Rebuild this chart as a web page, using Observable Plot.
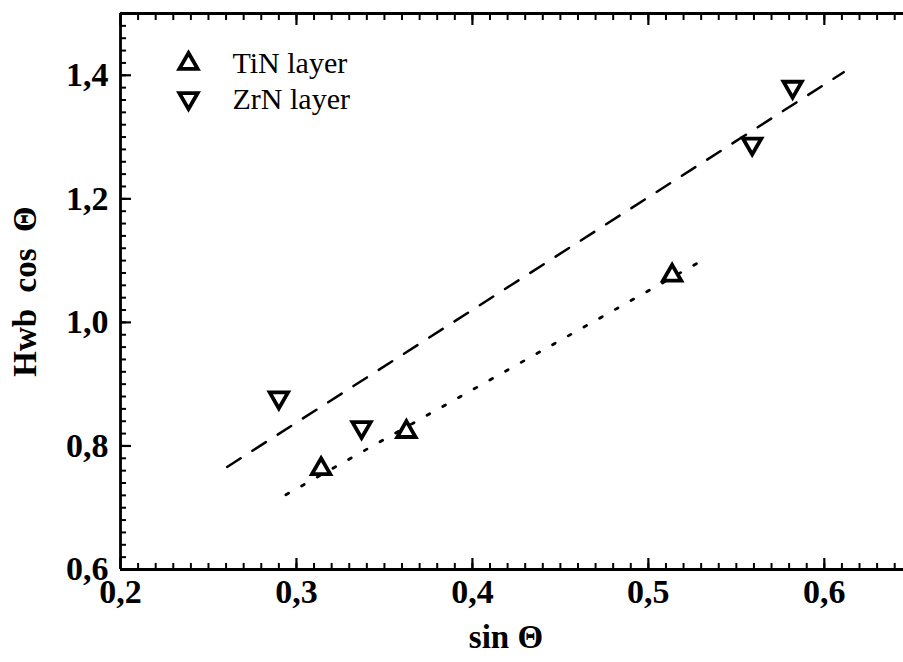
<!DOCTYPE html>
<html>
<head>
<meta charset="utf-8">
<script src="https://cdn.jsdelivr.net/npm/d3@7"></script>
<script src="https://cdn.jsdelivr.net/npm/@observablehq/plot@0.6"></script>
<style>
  html, body { margin: 0; padding: 0; background: #fff; }
  svg { display: block; }
</style>
</head>
<body>
<div id="chart"></div>
<script>
// ---- data ----
const tinX = [0.314, 0.3625, 0.5135];
const tinY = [0.763, 0.823, 1.076];
const zrnX = [0.290, 0.337, 0.559, 0.582];
const zrnY = [0.878, 0.830, 1.289, 1.381];
// fitted lines (end points)
const zrnFitX = [0.2606, 0.611];
const zrnFitY = [0.766, 1.405];
const tinFitX = [0.294, 0.528];
const tinFitY = [0.721, 1.096];
// ticks
const xMajor = [0.2, 0.3, 0.4, 0.5, 0.6];
const xMinor = d3.range(21, 65).map(d => d / 100);
const yMajor = [0.6, 0.8, 1.0, 1.2, 1.4];
const yMinor = d3.range(30, 76).map(d => d / 50);
const legendLabels = ["TiN layer", "ZrN layer"];

const tin = tinX.map((x, i) => ({x, y: tinY[i]}));
const zrn = zrnX.map((x, i) => ({x, y: zrnY[i]}));
const zrnFit = zrnFitX.map((x, i) => ({x, y: zrnFitY[i]}));
const tinFit = tinFitX.map((x, i) => ({x, y: tinFitY[i]}));

const triangleDown = {
  draw(context, size) {
    const y = -Math.sqrt(size / (Math.sqrt(3) * 3));
    context.moveTo(0, -y * 2);
    context.lineTo(-Math.sqrt(3) * y, y);
    context.lineTo(Math.sqrt(3) * y, y);
    context.closePath();
  }
};

const fmt = d => d3.format(".1f")(d).replace(".", ",");
const FONT = "'Liberation Serif', 'Times New Roman', serif";
const sym = {r: 6.8, stroke: "#000", strokeWidth: 3.8, fill: "#fff", strokeLinejoin: "miter"};

const chart = Plot.plot({
  width: 903,
  height: 662,
  marginLeft: 120,
  marginRight: 0,
  marginTop: 13,
  marginBottom: 93,
  style: {fontFamily: FONT, background: "#fff", color: "#000", overflow: "visible"},
  x: {type: "linear", domain: [0.2, 0.645], range: [120, 903]},
  y: {type: "linear", domain: [0.6, 1.5]},
  marks: [
    // minor ticks
    Plot.axisX({anchor: "bottom", ticks: xMinor, tickSize: -6, tickFormat: () => "", strokeWidth: 2, label: null}),
    Plot.axisX({anchor: "top", ticks: xMinor, tickSize: -6, tickFormat: () => "", strokeWidth: 2, label: null}),
    Plot.axisY({anchor: "left", ticks: yMinor, tickSize: -6, tickFormat: () => "", strokeWidth: 2, label: null}),
    // major ticks
    Plot.axisX({anchor: "bottom", ticks: xMajor, tickSize: -11, tickFormat: () => "", strokeWidth: 2.2, label: null}),
    Plot.axisX({anchor: "top", ticks: xMajor, tickSize: -11, tickFormat: () => "", strokeWidth: 2.2, label: null}),
    Plot.axisY({anchor: "left", ticks: yMajor, tickSize: -11, tickFormat: () => "", strokeWidth: 2.2, label: null}),
    // tick labels
    Plot.axisX({anchor: "bottom", ticks: xMajor, tickSize: 0, tickPadding: 9, tickFormat: fmt,
      fontSize: 34, fontWeight: "bold", fontFamily: FONT, label: null}),
    Plot.axisY({anchor: "left", ticks: yMajor, tickSize: 0, tickPadding: 12, tickFormat: fmt,
      fontSize: 34, fontWeight: "bold", fontFamily: FONT, label: null}),
    // frame lines (left, bottom, top)
    Plot.ruleX([0.2], {strokeWidth: 2.8}),
    Plot.ruleY([0.6, 1.5], {strokeWidth: 2.8}),
    // fit lines
    Plot.line(zrnFit, {x: "x", y: "y", stroke: "#000", strokeWidth: 2.5, strokeDasharray: "16,14"}),
    Plot.line(tinFit, {x: "x", y: "y", stroke: "#000", strokeWidth: 2.8, strokeDasharray: "3,15"}),
    // points
    Plot.dot(tin, {x: "x", y: "y", symbol: "triangle", ...sym}),
    Plot.dot(zrn, {x: "x", y: "y", symbol: triangleDown, ...sym}),
    // legend
    Plot.dot([0], {frameAnchor: "top-left", dx: 68, dy: 50, symbol: "triangle", ...sym}),
    Plot.dot([0], {frameAnchor: "top-left", dx: 68, dy: 85, symbol: triangleDown, ...sym}),
    Plot.text([legendLabels[0]], {frameAnchor: "top-left", dx: 112, dy: 50, text: d => d, textAnchor: "start",
      lineAnchor: "middle", fontSize: 30, fontFamily: FONT}),
    Plot.text([legendLabels[1]], {frameAnchor: "top-left", dx: 112, dy: 86, text: d => d, textAnchor: "start",
      lineAnchor: "middle", fontSize: 30, fontFamily: FONT}),
    // axis titles
    Plot.text(["sin Θ"], {frameAnchor: "bottom", dx: -6, dy: 68, text: d => d, textAnchor: "middle",
      lineAnchor: "middle", fontSize: 33, fontWeight: "bold", fontFamily: FONT}),
    Plot.text(["Hwb  cos  Θ"], {frameAnchor: "left", dx: -95, text: d => d, rotate: -90, textAnchor: "middle",
      lineAnchor: "middle", fontSize: 33, fontWeight: "bold", fontFamily: FONT})
  ]
});
document.getElementById("chart").appendChild(chart);
</script>
</body>
</html>
